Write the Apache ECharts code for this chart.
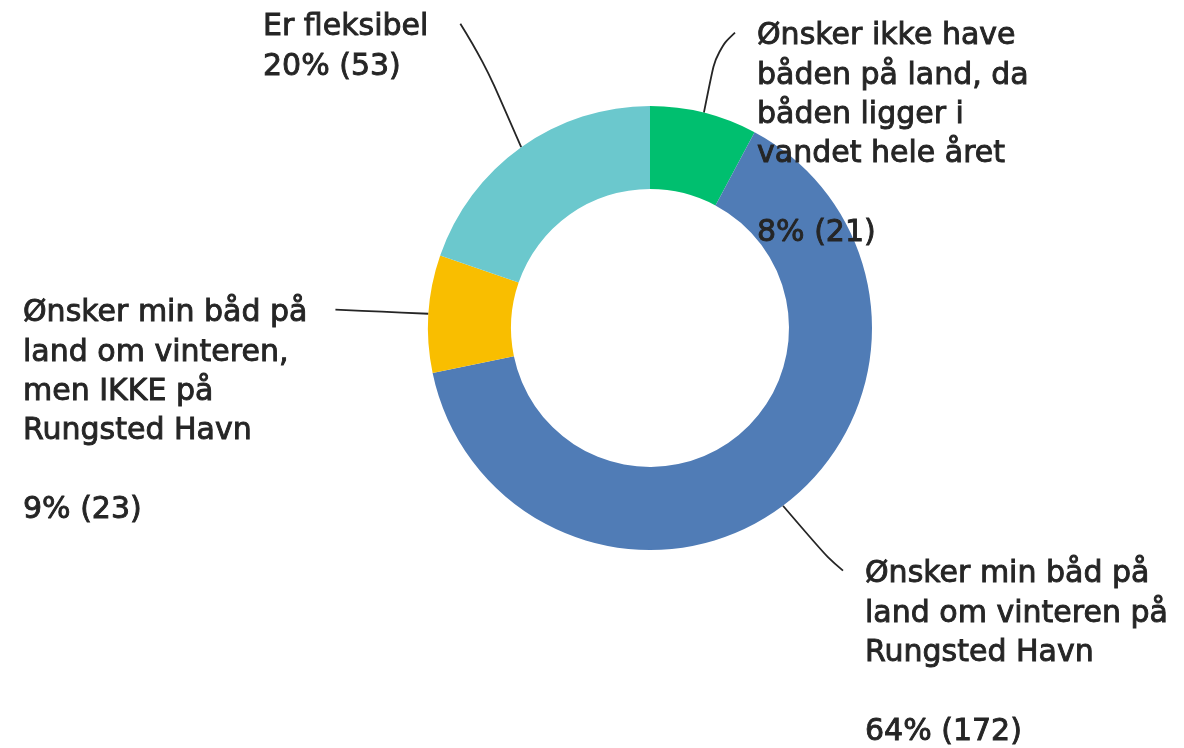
<!DOCTYPE html>
<html>
<head>
<meta charset="UTF-8">
<title>Vinteropbevaring af båd</title>
<script src="https://cdn.jsdelivr.net/npm/echarts@6/dist/echarts.min.js"></script>
<style>
    html, body { margin: 0; padding: 0; background: #fff; }
    #chart { width: 1184px; height: 748px; }
</style>
</head>
<body>
<div id="chart"></div>
<script type="text/javascript">
// svar-kategorier (rækkefølge med uret fra kl. 12)
var categories = [
    'Ønsker ikke have båden på land, da båden ligger i vandet hele året',
    'Ønsker min båd på land om vinteren på Rungsted Havn',
    'Ønsker min båd på land om vinteren, men IKKE på Rungsted Havn',
    'Er fleksibel'
];
// label tekst som den er ombrudt i billedet
var labelRows = [
    ['Ønsker ikke have', 'båden på land, da', 'båden ligger i', 'vandet hele året', ''],
    ['Ønsker min båd på', 'land om vinteren på', 'Rungsted Havn', ''],
    ['Ønsker min båd på', 'land om vinteren,', 'men IKKE på', 'Rungsted Havn', ''],
    ['Er fleksibel']
];
var counts = [21, 172, 23, 53];
var colors = ['#00bf6f', '#507cb6', '#f9be00', '#6bc8cd'];

var total = counts.reduce(function (a, b) { return a + b; }, 0);

var fontFamily = '"DejaVu Sans", sans-serif';
var fontSize = 30;
var lineH = 39.3;
var textColor = '#252525';

// hvor labels står, og hvor linjen knækker
var labelSpots = [
    {x: 757, y: 17, side: 'left', gap: 22, fx: 0.4, fy: 0.78},
    {x: 865, y: 555, side: 'left', gap: 22, fx: 0.74, fy: 0.8},
    {x: 23, y: 294, side: 'right', gap: 28, fx: 0.5, fy: 0.5},
    {x: 263, y: 8, side: 'right', gap: 32, fx: 0.62, fy: 0.7}
];

var ctx = document.createElement('canvas').getContext('2d');
ctx.font = fontSize + 'px ' + fontFamily;
function textWidth(s) {
    return ctx.measureText(s).width;
}

var myChart = echarts.init(document.getElementById('chart'));

var option = {
    animation: false,
    color: colors,
    series: [{
        type: 'pie',
        center: [650, 328],
        radius: [139, 222],
        startAngle: 90,
        clockwise: true,
        avoidLabelOverlap: false,
        emphasis: {scale: false},
        label: {
            show: true,
            position: 'outside',
            alignTo: 'none',
            fontFamily: fontFamily,
            fontSize: fontSize,
            lineHeight: lineH,
            color: textColor,
            textBorderColor: textColor,
            textBorderWidth: 0.9,
            formatter: function (p) {
                // hver andel afrundes for sig (som i kilden: 9% for 23)
                var pct = Math.round(p.value / total * 100);
                return labelRows[p.dataIndex].concat([pct + '% (' + p.value + ')']).join('\n');
            }
        },
        labelLine: {
            show: true,
            smooth: 0.45,
            lineStyle: {color: textColor, width: 1.8}
        },
        labelLayout: function (params) {
            var s = labelSpots[params.dataIndex];
            var p0 = params.labelLinePoints[0];
            var endY = s.y + lineH / 2 - 4;
            var endX = s.side === 'left'
                ? s.x - s.gap
                : s.x + textWidth(labelRows[params.dataIndex][0]) + s.gap;
            var mid = [p0[0] + s.fx * (endX - p0[0]), p0[1] + s.fy * (endY - p0[1])];
            return {
                x: s.x,
                y: s.y,
                align: 'left',
                verticalAlign: 'top',
                labelLinePoints: [p0, mid, [endX, endY]]
            };
        },
        data: categories.map(function (name, i) {
            return {name: name, value: counts[i]};
        })
    }]
};
myChart.setOption(option, true);
window.onresize = myChart.resize;
</script>
</body>
</html>
